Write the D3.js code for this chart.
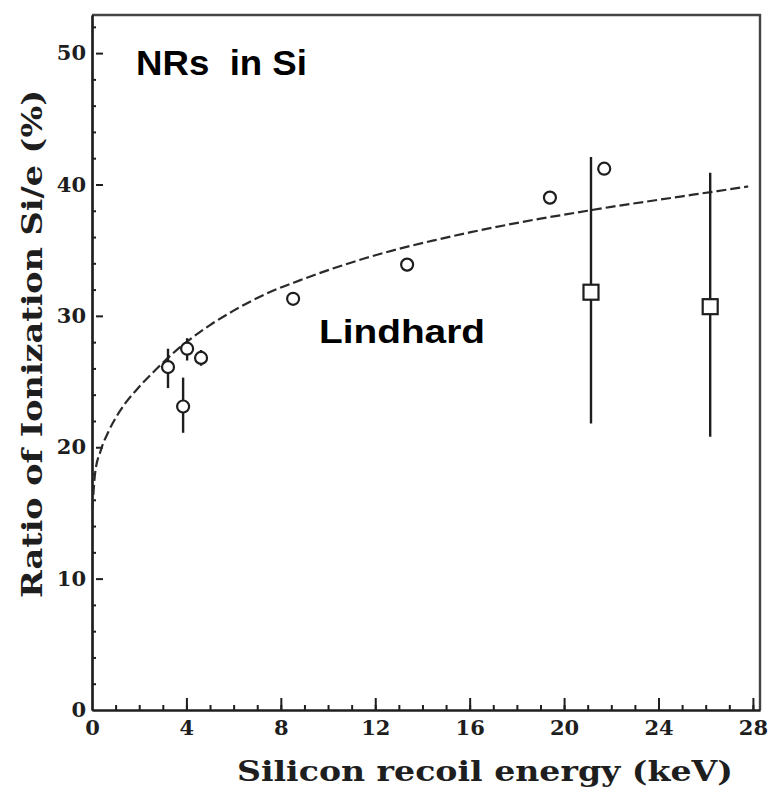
<!DOCTYPE html>
<html>
<head>
<meta charset="utf-8">
<script src="https://cdn.jsdelivr.net/npm/d3@7"></script>
<style>
  html, body { margin: 0; padding: 0; background: #fff; }
  svg { display: block; }
</style>
</head>
<body>
<svg id="chart" width="769" height="787"></svg>
<script>
// Measured ionization ratio for Si recoils (open circles)
const circleEnergy = [3.22, 4.03, 4.62, 3.86, 8.52, 13.35, 19.4, 21.7];
const circleRatio  = [26.1, 27.5, 26.8, 23.1, 31.3, 33.9, 39.0, 41.2];
const circleLow    = [24.5, 26.6, 26.2, 21.1, 31.3, 33.4, 38.5, 41.2];
const circleHigh   = [27.5, 28.3, 27.4, 25.3, 31.3, 34.4, 39.5, 41.2];

// Measurements with large uncertainties (open squares)
const squareEnergy = [21.14, 26.19];
const squareRatio  = [31.8, 30.7];
const squareLow    = [21.8, 20.8];
const squareHigh   = [42.1, 40.9];

// Lindhard prediction (dashed curve)
const lindhardEnergy = [0.02, 0.13, 0.38, 0.7, 1.2, 2.0, 2.7, 3.4, 4.0, 5.0, 6.0, 7.4, 8.8, 10.2, 11.6, 13.0, 14.5, 16.0, 17.5, 19.0, 20.5, 22.0, 23.5, 25.0, 26.5, 27.8];
const lindhardRatio  = [15.3, 18.0, 19.8, 21.2, 22.8, 24.6, 25.9, 27.1, 28.0, 29.3, 30.4, 31.7, 32.7, 33.6, 34.4, 35.1, 35.75, 36.35, 36.9, 37.4, 37.85, 38.3, 38.7, 39.1, 39.5, 39.85];

const xTicks = [0, 4, 8, 12, 16, 20, 24, 28];
const yTicks = [0, 10, 20, 30, 40, 50];

const ink = "#1e1e1e";
const svg = d3.select("#chart");

const x = d3.scaleLinear().domain([0, 28.3]).range([92, 760]);
const y = d3.scaleLinear().domain([0, 52.9]).range([710, 15]);

// Frame: top and right edges
svg.append("path")
  .attr("d", `M${x(0)},${y(52.9)}H${x(28.3)}V${y(0)}`)
  .attr("fill", "none").attr("stroke", "#444").attr("stroke-width", 2.4);

const serif = "'DejaVu Serif', 'Liberation Serif', serif";

// X axis: major and minor ticks pointing inward
svg.append("g").attr("transform", `translate(0,${y(0)})`)
  .call(d3.axisBottom(x).tickValues(d3.range(1, 29)).tickSize(-5).tickSizeOuter(0).tickFormat(""));
svg.append("g").attr("transform", `translate(0,${y(0)})`)
  .call(d3.axisBottom(x).tickValues(xTicks.filter(d => d > 0)).tickSize(-12).tickSizeOuter(0).tickFormat(""));
const xLabels = svg.append("g").attr("transform", `translate(0,${y(0)})`)
  .call(d3.axisBottom(x).tickValues(xTicks).tickSize(0).tickPadding(10).tickFormat(d3.format("d")));
xLabels.select(".domain").remove();

// Y axis
svg.append("g").attr("transform", `translate(${x(0)},0)`)
  .call(d3.axisLeft(y).tickValues(d3.range(2, 53, 2).filter(d => d % 10 !== 0)).tickSize(-4).tickSizeOuter(0).tickFormat(""));
const yMajor = svg.append("g").attr("transform", `translate(${x(0)},0)`)
  .call(d3.axisLeft(y).tickValues(yTicks.filter(d => d > 0)).tickSize(-11).tickSizeOuter(0).tickFormat(""));
yMajor.selectAll(".tick line").attr("x1", 4);
const yLabels = svg.append("g").attr("transform", `translate(${x(0)},0)`)
  .call(d3.axisLeft(y).tickValues(yTicks).tickSize(0).tickPadding(6).tickFormat(d3.format("d")));
yLabels.select(".domain").remove();

svg.selectAll(".domain").attr("stroke", ink).attr("stroke-width", 2.2);
svg.selectAll(".tick line").attr("stroke", ink).attr("stroke-width", 2);
svg.selectAll(".tick text")
  .attr("font-family", serif).attr("font-weight", "bold")
  .attr("font-size", 21).attr("fill", ink);

// Axis titles
svg.append("text")
  .attr("x", 485).attr("y", 781)
  .attr("text-anchor", "middle")
  .attr("font-family", serif).attr("font-weight", "bold").attr("font-size", 27)
  .attr("textLength", 496).attr("lengthAdjust", "spacingAndGlyphs")
  .attr("fill", ink)
  .text("Silicon recoil energy (keV)");

svg.append("text")
  .attr("transform", "translate(42,344) rotate(-90)")
  .attr("text-anchor", "middle")
  .attr("font-family", serif).attr("font-weight", "bold").attr("font-size", 27)
  .attr("textLength", 508).attr("lengthAdjust", "spacingAndGlyphs")
  .attr("fill", ink)
  .text("Ratio of Ionization  Si/e (%)");

// Lindhard curve
const curve = lindhardEnergy.map((e, i) => [e, lindhardRatio[i]]);
svg.append("path")
  .datum(curve)
  .attr("d", d3.line().x(d => x(d[0])).y(d => y(d[1])).curve(d3.curveMonotoneX))
  .attr("fill", "none").attr("stroke", "#2a2a2a").attr("stroke-width", 2.2)
  .attr("stroke-dasharray", "10,4");

// Error bars
function errorBars(energy, low, high) {
  svg.append("g").selectAll("line")
    .data(energy.map((e, i) => ({ e, lo: low[i], hi: high[i] })).filter(d => d.hi > d.lo))
    .join("line")
    .attr("x1", d => x(d.e)).attr("x2", d => x(d.e))
    .attr("y1", d => y(d.lo)).attr("y2", d => y(d.hi))
    .attr("stroke", ink).attr("stroke-width", 2.4);
}
errorBars(circleEnergy, circleLow, circleHigh);
errorBars(squareEnergy, squareLow, squareHigh);

// Open circles
svg.append("g").selectAll("circle")
  .data(circleEnergy.map((e, i) => ({ e, v: circleRatio[i] })))
  .join("circle")
  .attr("cx", d => x(d.e)).attr("cy", d => y(d.v)).attr("r", 6)
  .attr("fill", "#fff").attr("stroke", ink).attr("stroke-width", 2.2);

// Open squares
const side = 15;
svg.append("g").selectAll("rect")
  .data(squareEnergy.map((e, i) => ({ e, v: squareRatio[i] })))
  .join("rect")
  .attr("x", d => x(d.e) - side / 2).attr("y", d => y(d.v) - side / 2)
  .attr("width", side).attr("height", side)
  .attr("fill", "#fff").attr("stroke", ink).attr("stroke-width", 2.2);

// Annotations
const sans = "'Liberation Sans', Arial, sans-serif";
svg.append("text")
  .attr("x", 136).attr("y", 75)
  .attr("font-family", sans).attr("font-weight", "bold").attr("font-size", 35)
  .attr("textLength", 171).attr("lengthAdjust", "spacingAndGlyphs")
  .attr("fill", "#000").attr("xml:space", "preserve")
  .text("NRs  in Si");

svg.append("text")
  .attr("x", 319).attr("y", 343)
  .attr("font-family", sans).attr("font-weight", "bold").attr("font-size", 34)
  .attr("textLength", 166).attr("lengthAdjust", "spacingAndGlyphs")
  .attr("fill", "#000")
  .text("Lindhard");
</script>
</body>
</html>
